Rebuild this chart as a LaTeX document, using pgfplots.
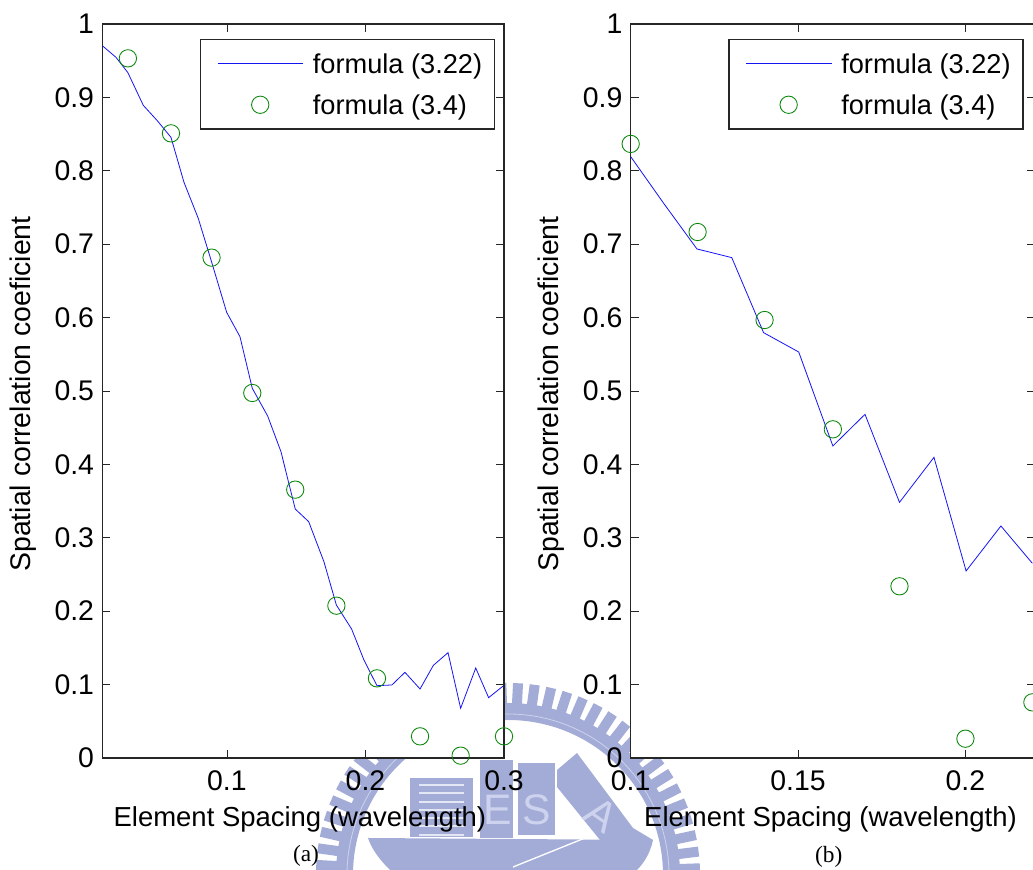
\documentclass[border=0pt]{standalone}
\usepackage{pgfplots}
\pgfplotsset{compat=1.18}
\usepackage{fontspec}
\setmainfont{Liberation Sans}
\newfontfamily\capfont{Liberation Serif}
\definecolor{wm}{RGB}{163,172,214}
\definecolor{wmp}{RGB}{205,211,238}
\definecolor{axc}{gray}{0.15}
\definecolor{lb}{RGB}{20,20,245}
\definecolor{lg}{RGB}{10,135,10}
\pgfplotsset{
  chartbase/.style={
    scale only axis, height=550.5pt, anchor=south west,
    ymin=0, ymax=1, clip=false, axis on top,
    axis background/.style={fill=white},
    axis line style={axc,line width=1pt},
    tick style={axc,line width=0.6pt},
    major tick length=6pt, tick align=inside, tickpos=both,
    ytick={0,0.1,0.2,0.3,0.4,0.5,0.6,0.7,0.8,0.9,1},
    yticklabels={0,0.1,0.2,0.3,0.4,0.5,0.6,0.7,0.8,0.9,1},
    tick label style={font=\fontsize{21.3}{25}\selectfont},
    y tick label style={inner sep=0pt,xshift=-6pt},
    x tick label style={inner sep=0pt,yshift=-9.5pt},
    ylabel={Spatial correlation coeficient},
    xlabel={Element Spacing (wavelength)},
    x label style={font=\fontsize{20.6}{24}\selectfont},
    y label style={font=\fontsize{21.3}{25}\selectfont},
    legend style={
      at={(axis description cs:0.9783,0.9796)}, anchor=north east,
      draw=axc, line width=1pt, fill=white,
      inner xsep=9.3pt, inner ysep=8.6pt,
      row sep=11.75pt, column sep=0pt,
      nodes={inner sep=0pt,text height=16.5pt,text depth=2.5pt,anchor=base west,
             font=\fontsize{20.4}{24}\selectfont},
    },
    legend cell align=left,
    legend image code/.code={
      \path (-3pt,0pt) (71pt,0pt);
      \draw[mark repeat=2,mark phase=2,##1] plot coordinates {(0pt,7pt)(32pt,7pt)(64.3pt,7pt)};
    },
  },
  lineplot/.style={lb,line width=0.6pt,no markers,line join=miter},
  circplot/.style={only marks,mark=o,mark size=6.5pt,mark options={lg,line width=0.65pt}},
}
\begin{document}
\begin{tikzpicture}
\clip[use as bounding box] (0pt,0pt) rectangle (774.75pt,652.5pt);
% watermark seal, in pixel units of the reference
\begin{scope}[x=0.75pt,y=-0.75pt,shift={(0pt,652.5pt)}]
  \begin{scope}[shift={(508,875)}]
    \foreach \a in {2,7,...,360}{
      \fill[wm,rotate=\a] (170,-5) rectangle (192,5);
    }
    \fill[wm,even odd rule] (0,0) circle (172) (0,0) circle (155);
    \draw[wmp,line width=0.6pt] (0,0) circle (161);
  \end{scope}
  \fill[wm] (410,778) rectangle (473,837);
  \foreach \yy in {785,793,802,810,818,826,835}{
    \draw[white!70!wm,line width=1.6pt] (419,\yy) -- (464,\yy);
  }
  \fill[wm] (480,760) rectangle (513,838);
  \fill[wm] (518,763) rectangle (555,835);
  \fill[wm] (577,753) -- (633,828) -- (653,840) -- (600,840) -- (557,787) -- (557,770) -- cycle;
  \fill[wm] (368,838) -- (653,840) .. controls (650,855) and (642,865) .. (637,870)
       -- (390,870) .. controls (380,860) and (372,850) .. (368,838) -- cycle;
  \draw[white,line width=1pt] (513,867) -- (590,836);
  \node[wmp,font=\fontsize{32}{32}\selectfont] at (498,810) {E};
  \node[wmp,font=\fontsize{32}{32}\selectfont] at (537,810) {S};
  \node[wmp,font=\fontsize{32}{32}\selectfont,rotate=-35] at (602,815) {A};
\end{scope}

\begin{axis}[chartbase, width=301.3pt, at={(76.7pt,84pt)},
  xmin=0.01, xmax=0.3,
  xtick={0.1,0.2,0.3}, xticklabels={0.1,0.2,0.3},
  x label style={at={(rel axis cs:0.492,-0.083)},anchor=center},
  y label style={at={(rel axis cs:-0.197,0.4959)},anchor=center},
]
\addplot[lineplot] coordinates {
(0.0100,0.9705)(0.0199,0.9546)(0.0285,0.9337)(0.0396,0.8892)(0.0497,0.8683)
(0.0596,0.8456)(0.0690,0.7843)(0.0793,0.7352)(0.0889,0.6760)(0.0998,0.6072)
(0.1094,0.5740)(0.1183,0.5036)(0.1294,0.4659)(0.1390,0.4173)(0.1493,0.3392)
(0.1590,0.3220)(0.1700,0.2675)(0.1790,0.2084)(0.1900,0.1757)(0.1989,0.1335)
(0.2083,0.0985)(0.2191,0.0995)(0.2285,0.1167)(0.2394,0.0940)(0.2490,0.1262)
(0.2596,0.1435)(0.2687,0.0677)(0.2796,0.1226)(0.2889,0.0822)(0.3000,0.0990)};
\addlegendentry{formula (3.22)}
\addplot[circplot] coordinates {
(0.0285,0.9532)(0.0596,0.8510)(0.0889,0.6817)(0.1183,0.4973)(0.1493,0.3656)
(0.1790,0.2075)(0.2083,0.1085)(0.2394,0.0295)(0.2687,0.0032)(0.3000,0.0295)};
\addlegendentry{formula (3.4)}
\end{axis}

\begin{axis}[chartbase, width=303.5pt, at={(473pt,84pt)},
  xmin=0.1, xmax=0.22088,
  xtick={0.1,0.15,0.2}, xticklabels={0.1,0.15,0.2},
  legend style={at={(axis description cs:0.9712,0.9796)}},
  x label style={at={(rel axis cs:0.4938,-0.083)},anchor=center},
  y label style={at={(rel axis cs:-0.1975,0.4959)},anchor=center},
]
\addplot[lineplot] coordinates {
(0.1000,0.8193)(0.1100,0.7548)(0.1198,0.6935)(0.1302,0.6817)(0.1397,0.5795)
(0.1502,0.5531)(0.1604,0.4251)(0.1700,0.4682)(0.1803,0.3483)(0.1906,0.4096)
(0.2002,0.2548)(0.2106,0.3161)(0.2200,0.2652)};
\addlegendentry{formula (3.22)}
\addplot[circplot] coordinates {
(0.1000,0.8366)(0.1200,0.7166)(0.1400,0.5967)(0.1604,0.4478)(0.1803,0.2339)
(0.2000,0.0263)(0.2200,0.0758)};
\addlegendentry{formula (3.4)}
\end{axis}

\node[font=\capfont\fontsize{17.5}{20}\selectfont] at (229.5pt,10.5pt) {(a)};
\node[font=\capfont\fontsize{17.5}{20}\selectfont] at (621.5pt,10pt) {(b)};
\end{tikzpicture}
\end{document}
